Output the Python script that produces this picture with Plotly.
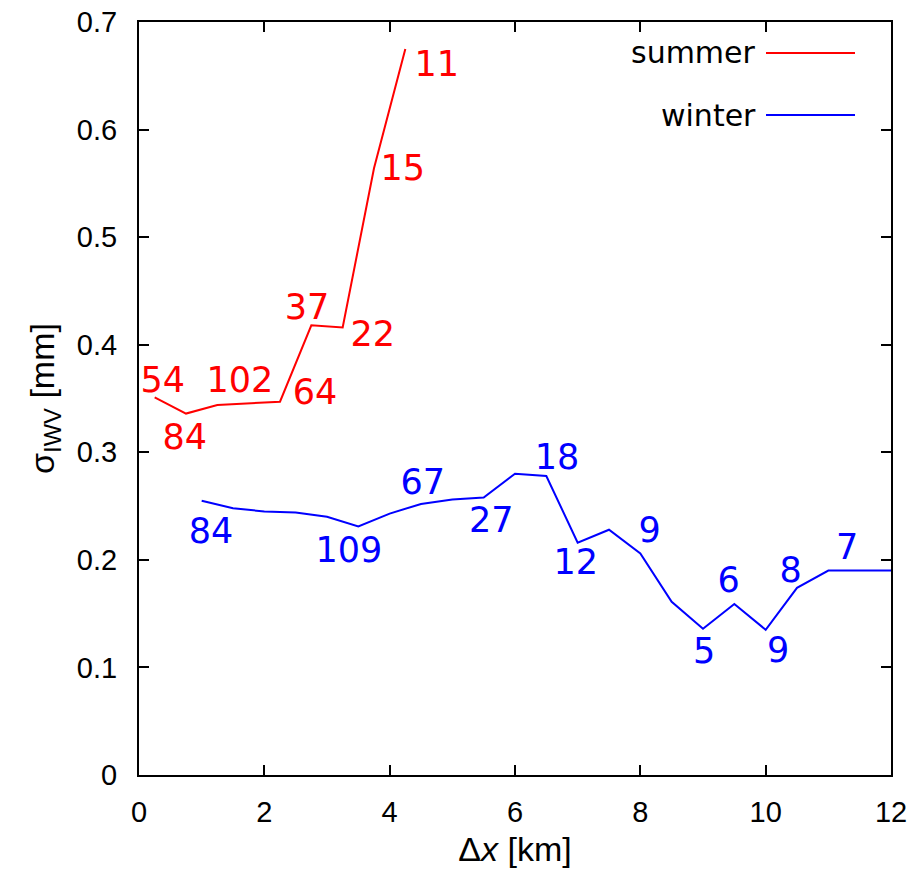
import plotly.graph_objects as go

# ---- data ----
summer_x = [0.25, 0.75, 1.25, 1.75, 2.25, 2.75, 3.25, 3.75, 4.25]
summer_y = [0.351, 0.336, 0.344, 0.3455, 0.347, 0.418, 0.416, 0.564, 0.675]

winter_x = [1.0, 1.5, 2.0, 2.5, 3.0, 3.5, 4.0, 4.5, 5.0, 5.5, 6.0, 6.5,
            7.0, 7.5, 8.0, 8.5, 9.0, 9.5, 10.0, 10.5, 11.0, 11.5, 12.0]
winter_y = [0.255, 0.248, 0.245, 0.244, 0.240, 0.231, 0.243, 0.252, 0.256,
            0.258, 0.280, 0.278, 0.216, 0.228, 0.206, 0.161, 0.136, 0.159,
            0.135, 0.174, 0.190, 0.190, 0.190]

# sample counts shown next to the curves
summer_counts = ["54", "84", "102", "64", "37", "22", "15", "11"]
summer_lab_x = [0.38, 0.73, 1.61, 2.81, 2.68, 3.73, 4.21, 4.75]
summer_lab_y = [0.364, 0.311, 0.364, 0.353, 0.432, 0.407, 0.561, 0.658]

winter_counts = ["84", "109", "67", "27", "18", "12", "9", "5", "6", "9", "8", "7"]
winter_lab_x = [1.15, 3.35, 4.53, 5.62, 6.67, 6.97, 8.15, 9.02, 9.41, 10.20, 10.40, 11.30]
winter_lab_y = [0.224, 0.206, 0.269, 0.234, 0.293, 0.195, 0.225, 0.112,
                0.178, 0.113, 0.188, 0.209]

x_ticks = [0, 2, 4, 6, 8, 10, 12]
y_ticks = [0, 0.1, 0.2, 0.3, 0.4, 0.5, 0.6, 0.7]

RED = "#ff0000"
BLUE = "#0000ff"
LBL_FONT = "DejaVu Sans"
TICK_FONT = "Liberation Sans"

# plot-area pixel box in the page
L, R, T, B = 139, 891, 22, 775
W, H = 916, 869

fig = go.Figure()
fig.add_trace(go.Scatter(x=summer_x, y=summer_y, mode="lines", name="summer",
                         line=dict(color=RED, width=2)))
fig.add_trace(go.Scatter(x=winter_x, y=winter_y, mode="lines", name="winter",
                         line=dict(color=BLUE, width=2)))

# count labels
fig.add_trace(go.Scatter(x=summer_lab_x, y=summer_lab_y, mode="text", text=summer_counts,
                         textfont=dict(family=LBL_FONT, size=35, color=RED),
                         showlegend=False, hoverinfo="skip"))
fig.add_trace(go.Scatter(x=winter_lab_x, y=winter_lab_y, mode="text", text=winter_counts,
                         textfont=dict(family=LBL_FONT, size=35, color=BLUE),
                         showlegend=False, hoverinfo="skip"))

# legend drawn gnuplot-style: text left of sample line
for name, col, yp in [("summer", RED, 53), ("winter", BLUE, 115)]:
    yfrac = 1 - (yp - T) / (B - T)
    fig.add_annotation(xref="paper", yref="paper", x=(758 - L) / (R - L), y=yfrac,
                       text=name, showarrow=False, xanchor="right", yanchor="middle",
                       font=dict(family=LBL_FONT, size=30, color="black"))
    fig.add_shape(type="line", xref="paper", yref="paper",
                  x0=(766 - L) / (R - L), x1=(855 - L) / (R - L),
                  y0=yfrac, y1=yfrac, line=dict(color=col, width=2))

axis_common = dict(showline=True, linecolor="black", linewidth=2, mirror="ticks",
                   ticks="inside", ticklen=10, tickwidth=1.5, tickcolor="black",
                   showgrid=False, zeroline=False, ticklabeloverflow="allow",
                   automargin=False,
                   tickfont=dict(family=TICK_FONT, size=29, color="black"))

fig.update_xaxes(range=[0, 12], tickvals=x_ticks, ticklabelstandoff=10,
                 title=dict(text="Δ<i>x</i> [km]", font=dict(family=TICK_FONT, size=34, color="black"),
                            standoff=10),
                 **axis_common)
fig.update_yaxes(range=[0, 0.7], tickvals=y_ticks, ticklabelstandoff=14,
                 title=dict(text="σ<sub>IWV</sub> [mm]", font=dict(family=TICK_FONT, size=34, color="black"),
                            standoff=12),
                 **axis_common)

fig.update_layout(width=W, height=H, showlegend=False,
                  margin=dict(l=L, r=W - R, t=T, b=H - B, autoexpand=False),
                  paper_bgcolor="white", plot_bgcolor="white")

fig.write_html("out.html", config={"displayModeBar": False},
               post_script="document.body.style.margin='0';"
                           "document.body.style.overflow='hidden';")
